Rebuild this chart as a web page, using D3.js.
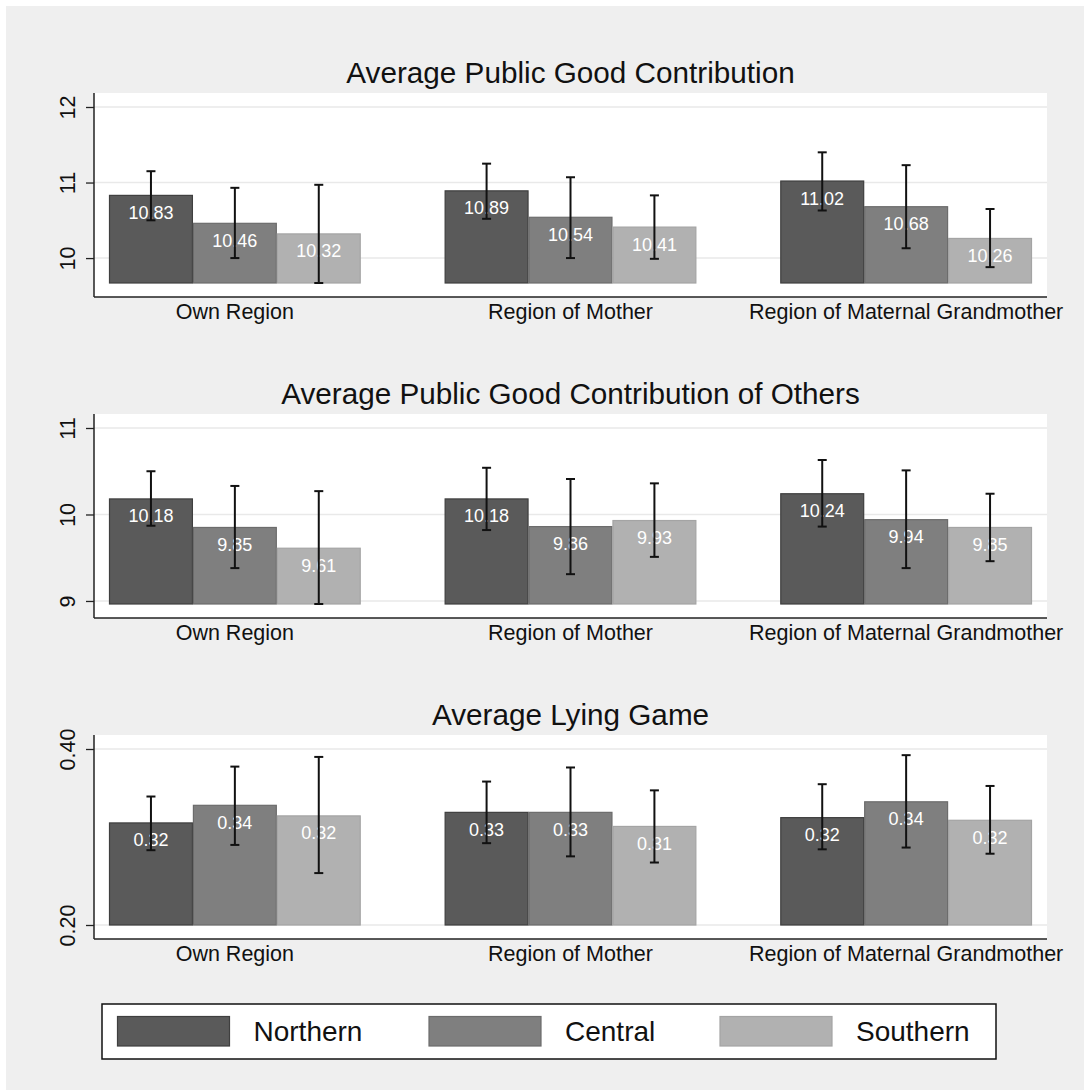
<!DOCTYPE html>
<html>
<head>
<meta charset="utf-8">
<script src="https://cdn.jsdelivr.net/npm/d3@7"></script>
<style>
  html, body { margin: 0; padding: 0; background: #ffffff; }
  svg { display: block; font-family: "Liberation Sans", Arial, Helvetica, sans-serif; }
</style>
</head>
<body>
<svg id="chart" width="1084" height="1090"></svg>
<script>
// Categories and series
const categories = ["Own Region", "Region of Mother", "Region of Maternal Grandmother"];
const series = ["Northern", "Central", "Southern"];

// Panel titles
const titles = [
  "Average Public Good Contribution",
  "Average Public Good Contribution of Others",
  "Average Lying Game"
];

// Public good contribution: means and 95% CI bounds [category][series]
const pgMean = [[10.83, 10.46, 10.32], [10.89, 10.54, 10.41], [11.02, 10.68, 10.26]];
const pgLow  = [[10.50, 10.00, 9.67],  [10.52, 10.00, 9.99],  [10.63, 10.13, 9.88]];
const pgHigh = [[11.15, 10.93, 10.97], [11.25, 11.07, 10.83], [11.40, 11.23, 10.65]];

// Public good contribution of others
const othMean = [[10.18, 9.85, 9.61], [10.18, 9.86, 9.93], [10.24, 9.94, 9.85]];
const othLow  = [[9.87, 9.38, 8.965], [9.82, 9.31, 9.51], [9.86, 9.38, 9.46]];
const othHigh = [[10.50, 10.33, 10.27], [10.54, 10.41, 10.36], [10.63, 10.51, 10.24]];

// Lying game
const lieMean = [[0.316, 0.336, 0.324], [0.328, 0.328, 0.312], [0.322, 0.340, 0.319]];
const lieLow  = [[0.285, 0.291, 0.259], [0.293, 0.278, 0.271], [0.286, 0.288, 0.281]];
const lieHigh = [[0.346, 0.380, 0.391], [0.363, 0.379, 0.353], [0.360, 0.393, 0.358]];

// Y-axis ticks
const pgTicks = [10, 11, 12];
const othTicks = [9, 10, 11];
const lieTicks = [0.20, 0.40];

const panels = [
  { title: titles[0], mean: pgMean, low: pgLow, high: pgHigh, ticks: pgTicks, tickFmt: d3.format("d"), valFmt: d3.format(".2f") },
  { title: titles[1], mean: othMean, low: othLow, high: othHigh, ticks: othTicks, tickFmt: d3.format("d"), valFmt: d3.format(".2f") },
  { title: titles[2], mean: lieMean, low: lieLow, high: lieHigh, ticks: lieTicks, tickFmt: d3.format(".2f"), valFmt: d3.format(".2f") }
];

const fills   = ["#5a5a5a", "#7f7f7f", "#b1b1b1"];
const strokes = ["#3f3f3f", "#6c6c6c", "#a4a4a4"];

const svg = d3.select("#chart");

// Graph region background
svg.append("rect").attr("x", 6).attr("y", 6).attr("width", 1078).attr("height", 1084).attr("fill", "#efefef");

const plotLeft = 94, plotRight = 1047;
const plotH = 204, inset = 14;
const panelTops = [93, 414, 735];

const xGroup = d3.scaleBand().domain(categories).range([plotLeft + 15, plotRight - 15]).paddingInner(0.25).paddingOuter(0);
const xSeries = d3.scaleBand().domain(series).range([0, xGroup.bandwidth()]).padding(0);

panels.forEach((p, pi) => {
  const top = panelTops[pi];
  const bottom = top + plotH;
  const lows = p.low.flat();
  const base = Math.min(p.ticks[0], d3.min(lows));
  const y = d3.scaleLinear().domain([base, p.ticks[p.ticks.length - 1]]).range([bottom - inset, top + inset]);

  const g = svg.append("g");

  // plot region
  g.append("rect").attr("x", plotLeft).attr("y", top).attr("width", plotRight - plotLeft).attr("height", plotH).attr("fill", "#ffffff");

  // gridlines
  g.selectAll(".grid").data(p.ticks).join("line")
    .attr("x1", plotLeft).attr("x2", plotRight)
    .attr("y1", d => y(d)).attr("y2", d => y(d))
    .attr("stroke", "#e9e9e9").attr("stroke-width", 1.5);

  // title
  g.append("text").attr("x", (plotLeft + plotRight) / 2).attr("y", top - 10)
    .attr("text-anchor", "middle").attr("font-size", 29.7).attr("fill", "#111").text(p.title);

  // bars
  const rows = [];
  categories.forEach((c, ci) => series.forEach((s, si) => {
    rows.push({ c, s, si, v: p.mean[ci][si], lo: p.low[ci][si], hi: p.high[ci][si] });
  }));

  g.selectAll(".bar").data(rows).join("rect")
    .attr("x", d => xGroup(d.c) + xSeries(d.s) + 0.5)
    .attr("width", xSeries.bandwidth() - 1)
    .attr("y", d => y(d.v))
    .attr("height", d => y(base) - y(d.v))
    .attr("fill", d => fills[d.si])
    .attr("stroke", d => strokes[d.si])
    .attr("stroke-width", 1.2);

  // value labels
  g.selectAll(".val").data(rows).join("text")
    .attr("x", d => xGroup(d.c) + xSeries(d.s) + xSeries.bandwidth() / 2)
    .attr("y", d => y(d.v) + 23.5)
    .attr("text-anchor", "middle").attr("font-size", 18).attr("fill", "#ffffff")
    .text(d => p.valFmt(d.v));

  // error bars
  const eb = g.selectAll(".eb").data(rows).join("g")
    .attr("transform", d => `translate(${xGroup(d.c) + xSeries(d.s) + xSeries.bandwidth() / 2},0)`)
    .attr("stroke", "#111").attr("stroke-width", 2);
  eb.append("line").attr("x1", 0).attr("x2", 0).attr("y1", d => y(d.lo)).attr("y2", d => y(d.hi));
  eb.append("line").attr("x1", -4.5).attr("x2", 4.5).attr("y1", d => y(d.hi)).attr("y2", d => y(d.hi));
  eb.append("line").attr("x1", -4.5).attr("x2", 4.5).attr("y1", d => y(d.lo)).attr("y2", d => y(d.lo));

  // y axis
  const yAxis = d3.axisLeft(y).tickValues(p.ticks).tickSize(8).tickSizeOuter(0).tickFormat(p.tickFmt);
  const ya = g.append("g").attr("transform", `translate(${plotLeft},0)`).call(yAxis);
  ya.select(".domain").remove();
  ya.selectAll(".tick line").attr("stroke", "#222").attr("stroke-width", 1.3);
  ya.selectAll(".tick text")
    .attr("x", null).attr("dy", null)
    .attr("transform", "translate(-19,0) rotate(-90)")
    .attr("text-anchor", "middle")
    .attr("font-size", 21.5).attr("fill", "#111")
    .attr("font-family", "Liberation Sans, Arial, sans-serif");
  g.append("line").attr("x1", plotLeft).attr("x2", plotLeft).attr("y1", top).attr("y2", bottom)
    .attr("stroke", "#222").attr("stroke-width", 1.5);

  // x axis
  g.append("line").attr("x1", plotLeft).attr("x2", plotRight).attr("y1", bottom).attr("y2", bottom)
    .attr("stroke", "#222").attr("stroke-width", 1.5);
  g.selectAll(".cat").data(categories).join("text")
    .attr("x", d => xGroup(d) + xGroup.bandwidth() / 2)
    .attr("y", bottom + 22)
    .attr("text-anchor", "middle").attr("font-size", 21.5).attr("fill", "#111")
    .text(d => d);
});

// Legend
const lg = svg.append("g");
lg.append("rect").attr("x", 102).attr("y", 1004).attr("width", 894).attr("height", 55)
  .attr("fill", "#ffffff").attr("stroke", "#111").attr("stroke-width", 1.5);
const swatchX = [117.5, 429, 720];
series.forEach((s, i) => {
  lg.append("rect").attr("x", swatchX[i]).attr("y", 1016.5).attr("width", 112).attr("height", 29.5)
    .attr("fill", fills[i]).attr("stroke", strokes[i]).attr("stroke-width", 1.2);
  lg.append("text").attr("x", swatchX[i] + 136).attr("y", 1041).attr("font-size", 28).attr("fill", "#111").text(s);
});
</script>
</body>
</html>
